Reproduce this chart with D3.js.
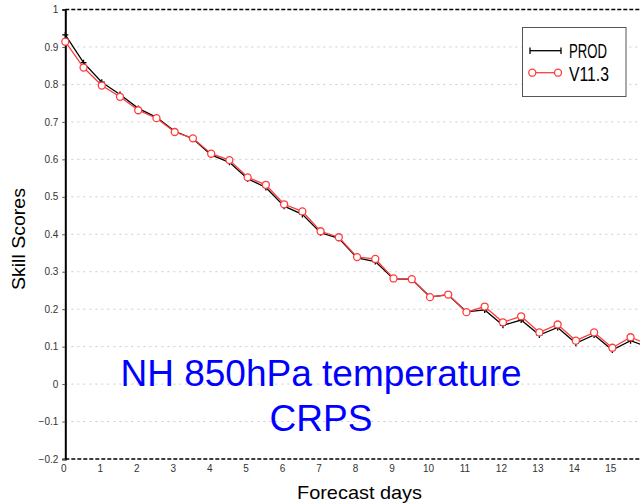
<!DOCTYPE html>
<html><head><meta charset="utf-8">
<script src="https://cdn.jsdelivr.net/npm/d3@7"></script>
<style>html,body{margin:0;padding:0;background:#fff;}svg{display:block;}</style>
</head><body>
<script>
const days = [0,0.5,1,1.5,2,2.5,3,3.5,4,4.5,5,5.5,6,6.5,7,7.5,8,8.5,9,9.5,10,10.5,11,11.5,12,12.5,13,13.5,14,14.5,15,15.5,16];
const prod = [0.932,0.858,0.806,0.773,0.736,0.712,0.675,0.655,0.612,0.592,0.548,0.525,0.475,0.453,0.404,0.389,0.337,0.327,0.281,0.280,0.233,0.238,0.193,0.198,0.157,0.171,0.131,0.151,0.109,0.131,0.091,0.116,0.098];
const v113 = [0.914,0.845,0.797,0.767,0.731,0.710,0.673,0.656,0.615,0.598,0.552,0.532,0.480,0.461,0.408,0.392,0.339,0.334,0.282,0.280,0.232,0.239,0.192,0.207,0.165,0.181,0.138,0.159,0.116,0.138,0.097,0.125,0.105];
const seriesNames = ["PROD","V11.3"];
const yTicks = [-0.2,-0.1,0,0.1,0.2,0.3,0.4,0.5,0.6,0.7,0.8,0.9,1];
const xTicks = [0,1,2,3,4,5,6,7,8,9,10,11,12,13,14,15];
const titleLines = ["NH 850hPa temperature","CRPS"];

const W = 640, H = 503;
const svg = d3.select("body").append("svg").attr("width", W).attr("height", H);
const x = d3.scaleLinear().domain([0,16]).range([65.3, 648.8]);
const y = d3.scaleLinear().domain([-0.2,1]).range([459, 9.5]);
const fontNarrow = "'Liberation Sans Narrow','Liberation Sans',Arial,sans-serif";

// grid
svg.append("g").selectAll("line").data(yTicks.filter(d => d > -0.2 && d < 1)).join("line")
  .attr("x1", x(0)).attr("x2", W).attr("y1", d => y(d)).attr("y2", d => y(d))
  .attr("stroke", "#cccccc").attr("stroke-width", 1).attr("stroke-dasharray", "2,4");

// top & bottom dashed borders
[1, -0.2].forEach(v => {
  svg.append("line").attr("x1", x(0)).attr("x2", W).attr("y1", y(v)).attr("y2", y(v))
    .attr("stroke", "#000").attr("stroke-width", 1.5).attr("stroke-dasharray", "4,2");
});

// y axis
const yAxis = d3.axisLeft(y).tickValues(yTicks).tickSize(3).tickPadding(4)
  .tickFormat(d => d === 0 ? "0" : d3.format(".1f")(d).replace("-", "\u2212").replace(/^1\.0$/, "1"));
const gy = svg.append("g").attr("transform", `translate(${x(0)},0)`).call(yAxis);
gy.select(".domain").attr("stroke", "#000").attr("stroke-width", 2);
gy.selectAll(".tick line").attr("stroke", "#555");
gy.selectAll("text").attr("font-family", "'Liberation Sans',Arial,sans-serif").attr("font-size", 10).attr("fill", "#333");

// x axis
const xAxis = d3.axisBottom(x).tickValues(xTicks).tickSize(0).tickPadding(6).tickFormat(d3.format("d"));
const gx = svg.append("g").attr("transform", `translate(0,${y(-0.2)})`).call(xAxis);
gx.select(".domain").remove();
gx.selectAll("text").attr("font-family", "'Liberation Sans',Arial,sans-serif").attr("font-size", 10).attr("fill", "#333").attr("dx", -2);

// clip
svg.append("clipPath").attr("id", "clip").append("rect").attr("x", x(0) - 6).attr("y", 0).attr("width", 700).attr("height", y(-0.2));

const line = d3.line().x(d => x(d[0])).y(d => y(d[1]));
const prodPts = days.map((d, i) => [d, prod[i]]);
const vPts = days.map((d, i) => [d, v113[i]]);
const plot = svg.append("g").attr("clip-path", "url(#clip)");

plot.append("path").datum(prodPts).attr("d", line).attr("fill", "none").attr("stroke", "#000").attr("stroke-width", 1.3);
plot.append("g").selectAll("path").data(prodPts).join("path")
  .attr("d", d => `M${x(d[0]) - 3},${y(d[1])}h6M${x(d[0])},${y(d[1]) - 3}v6`)
  .attr("stroke", "#000").attr("stroke-width", 1.3).attr("fill", "none");

const red = "#ff3c3c";
plot.append("path").datum(vPts).attr("d", line).attr("fill", "none").attr("stroke", red).attr("stroke-width", 1.3);
plot.append("g").selectAll("circle").data(vPts).join("circle")
  .attr("cx", d => x(d[0])).attr("cy", d => y(d[1])).attr("r", 3.5)
  .attr("fill", "#fff").attr("stroke", red).attr("stroke-width", 1.3);

// legend
const lg = svg.append("g");
lg.append("rect").attr("x", 522.5).attr("y", 27.5).attr("width", 103.5).attr("height", 69)
  .attr("fill", "#fff").attr("stroke", "#555").attr("stroke-width", 1);
lg.append("line").attr("x1", 530).attr("x2", 561).attr("y1", 50.7).attr("y2", 50.7).attr("stroke", "#000").attr("stroke-width", 1.3);
[530, 561].forEach(px => lg.append("line").attr("x1", px).attr("x2", px).attr("y1", 47.5).attr("y2", 54).attr("stroke", "#000").attr("stroke-width", 1.3));
lg.append("line").attr("x1", 532.3).attr("x2", 558).attr("y1", 72.7).attr("y2", 72.7).attr("stroke", red).attr("stroke-width", 1.3);
[532.3, 558].forEach(px => lg.append("circle").attr("cx", px).attr("cy", 72.7).attr("r", 3.5).attr("fill", "#fff").attr("stroke", red).attr("stroke-width", 1.3));
lg.append("text").attr("x", 569).attr("y", 58.3).text(seriesNames[0])
  .attr("font-family", fontNarrow).attr("font-size", 20).attr("fill", "#000")
  .attr("textLength", 38).attr("lengthAdjust", "spacingAndGlyphs");
lg.append("text").attr("x", 569).attr("y", 81).text(seriesNames[1])
  .attr("font-family", fontNarrow).attr("font-size", 20).attr("fill", "#000")
  .attr("textLength", 40).attr("lengthAdjust", "spacingAndGlyphs");

// axis titles
svg.append("text").attr("x", 297).attr("y", 499).text("Forecast days")
  .attr("font-family", fontNarrow).attr("font-size", 19).attr("fill", "#000")
  .attr("textLength", 125).attr("lengthAdjust", "spacingAndGlyphs");
svg.append("text").attr("transform", "translate(25,290) rotate(-90)").text("Skill  Scores")
  .attr("font-family", "'Liberation Sans',Arial,sans-serif").attr("font-size", 18).attr("fill", "#000")
  .attr("textLength", 102).attr("lengthAdjust", "spacingAndGlyphs");

// big title
svg.append("g").selectAll("text").data(titleLines).join("text")
  .attr("x", 321).attr("y", (d, i) => i === 0 ? 386 : 431)
  .attr("text-anchor", "middle").text(d => d)
  .attr("font-family", "'Liberation Sans',Arial,sans-serif").attr("font-size", 37).attr("fill", "#0000ff");
</script>
</body></html>
